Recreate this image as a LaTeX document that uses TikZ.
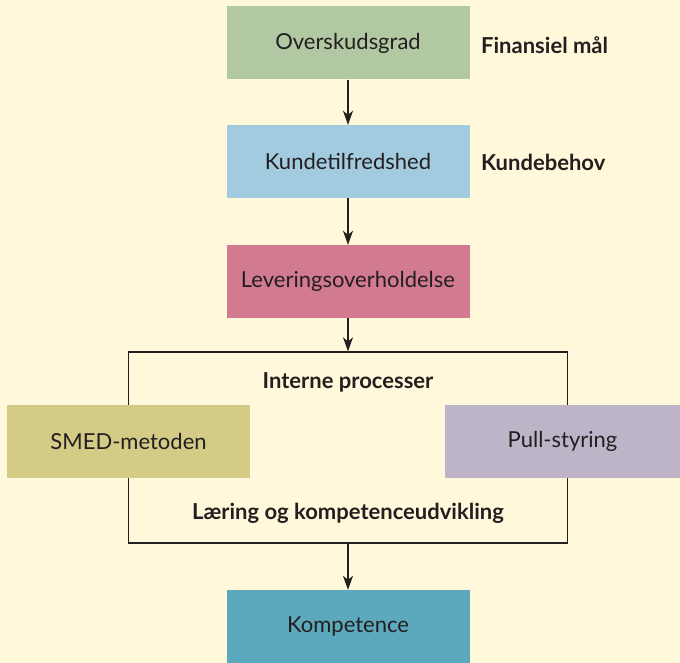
\documentclass[tikz,border=0pt]{standalone}
\usepackage{fontspec}
\setmainfont{Lato}
\usetikzlibrary{arrows.meta}
\usetikzlibrary{positioning}
\usepackage{xcolor}
\definecolor{bgcream}{HTML}{FFF8DA}
\definecolor{inkgray}{HTML}{231F20}
\definecolor{sagegreen}{HTML}{B2C8A2}
\definecolor{skyblue}{HTML}{A3CBE0}
\definecolor{rosered}{HTML}{D27B90}
\definecolor{khaki}{HTML}{D3CB86}
\definecolor{lavender}{HTML}{BDB4C8}
\definecolor{tealblue}{HTML}{5CA8BC}
\tikzset{
  box/.style={draw=none, minimum width=243pt, minimum height=73pt,
    inner sep=0pt, text=inkgray, font=\fontsize{22}{24}\selectfont},
  tag/.style={text=inkgray, inner sep=0pt, font=\fontsize{22}{24}\selectfont\bfseries},
  flow/.style={draw=inkgray, line width=1.4pt, -{Stealth[length=14pt,width=10pt,inset=4pt]}},
}

\begin{document}
\begin{tikzpicture}[x=1pt,y=-1pt]

%%%%%%%%%%%%%%%%%%%%%%%%%%%%%%%%%%%%%%%%%%%%%%%%%%%%%%%%%%%%%% Setup
\fill[bgcream] (0,0) rectangle (680,663);
\useasboundingbox (0,0) rectangle (680,663);

%%%%%%%%%%%%%%%%%%%%%%%%%%%%%%%%%%%%%%%%%%%%%%%%%%%%%%%%%%%%%% Frame
\node[draw=inkgray, line width=1.3pt, minimum width=439pt, minimum height=191pt,
  inner sep=0pt] (frame) at (348,447.5) {};

%%%%%%%%%%%%%%%%%%%%%%%%%%%%%%%%%%%%%%%%%%%%%%%%%%%%%%%%%%%%%% Boxes
\node[box, fill=sagegreen] (profit)   at (348,43)  {\raisebox{-2pt}{Overskudsgrad}};
\node[box, fill=skyblue]   (customer) at (348,161.5) {\raisebox{-2pt}{Kundetilfredshed}};
\node[box, fill=rosered]   (delivery) at (348,281.5) {\raisebox{-2pt}{Leveringsoverholdelse}};
\node[box, fill=khaki]     (smed)     at (128.5,441) {\raisebox{-2pt}{SMED-metoden}};
\node[box, fill=lavender, minimum width=235pt] (pull) at (562.5,441) {\raisebox{-2pt}{Pull-styring}};
\node[box, fill=tealblue]  (skills)   at (348,626.5) {\raisebox{-2pt}{Kompetence}};

%%%%%%%%%%%%%%%%%%%%%%%%%%%%%%%%%%%%%%%%%%%%%%%%%%%%%%%%%%%%%% Labels
\node[tag, anchor=west] (financial) at (481,45)  {Finansiel mål};
\node[tag, anchor=west] (needs)     at (481,162) {Kundebehov};
\node[tag] (internal) at (348,382) {Interne processer};
\node[tag] (learning) at (348,513) {Læring og kompetenceudvikling};

%%%%%%%%%%%%%%%%%%%%%%%%%%%%%%%%%%%%%%%%%%%%%%%%%%%%%%%%%%%%%% Arrows
\draw[flow] (profit.south)   -- (customer.north);
\draw[flow] (customer.south) -- (delivery.north);
\draw[flow] (delivery.south) -- (frame.north);
\draw[flow] (frame.south)    -- (skills.north);

\end{tikzpicture}
\end{document}
